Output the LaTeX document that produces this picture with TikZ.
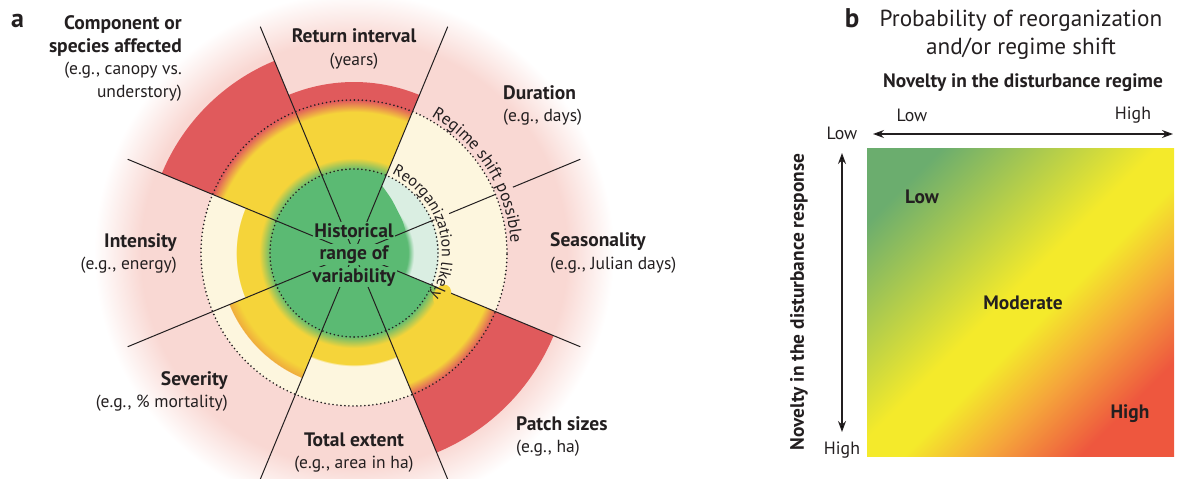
\documentclass[tikz,border=0pt]{standalone}
\usepackage{fontspec}
\setmainfont{PT Sans}
\usetikzlibrary{arrows.meta,decorations.text}

\definecolor{hrvgreen}{HTML}{5BBA73}
\definecolor{hrvyellow}{HTML}{F5D43A}
\definecolor{hrvred}{HTML}{E05A5C}
\definecolor{hrvcream}{HTML}{FDF6DE}
\definecolor{hrvmint}{HTML}{DAEEE2}
\definecolor{hrvpink}{HTML}{F9D8D3}
\definecolor{hrvorange}{HTML}{EFAC3C}
\definecolor{ink}{HTML}{231F20}
\definecolor{gridgreen}{HTML}{6BAD6E}
\definecolor{gridyellow}{HTML}{F4EA2B}
\definecolor{gridorange}{HTML}{F5A43B}
\definecolor{gridred}{HTML}{EE573E}

% radial shadings: on a circle of radius 250, 1bp = 10pt of radius
\pgfdeclareradialshading{glow}{\pgfpoint{0bp}{0bp}}{color(0bp)=(hrvpink); color(20.5bp)=(hrvpink); color(25bp)=(white); color(50bp)=(white)}
\pgfdeclareradialshading{redband}{\pgfpoint{0bp}{0bp}}{color(0bp)=(hrvgreen); color(8.3bp)=(hrvgreen); color(9.5bp)=(hrvyellow); color(14.1bp)=(hrvyellow); color(15.3bp)=(hrvred); color(50bp)=(hrvred)}
\pgfdeclareradialshading{intband}{\pgfpoint{0bp}{0bp}}{color(0bp)=(hrvgreen); color(8.3bp)=(hrvgreen); color(9.5bp)=(hrvyellow); color(11.75bp)=(hrvyellow); color(11.8bp)=(hrvcream); color(50bp)=(hrvcream)}
\pgfdeclareradialshading{sevband}{\pgfpoint{0bp}{0bp}}{color(0bp)=(hrvgreen); color(8.3bp)=(hrvgreen); color(9.5bp)=(hrvyellow); color(12.5bp)=(hrvyellow); color(13.5bp)=(hrvorange); color(13.55bp)=(hrvcream); color(50bp)=(hrvcream)}
\pgfdeclareradialshading{extband}{\pgfpoint{0bp}{0bp}}{color(0bp)=(hrvgreen); color(8.3bp)=(hrvgreen); color(9.5bp)=(hrvyellow); color(11.2bp)=(hrvyellow); color(11.25bp)=(hrvcream); color(50bp)=(hrvcream)}
\pgfdeclareradialshading{mintband}{\pgfpoint{0bp}{0bp}}{color(0bp)=(hrvgreen); color(5.4bp)=(hrvgreen); color(6.0bp)=(hrvmint); color(8.4bp)=(hrvmint); color(8.45bp)=(hrvcream); color(50bp)=(hrvcream)}
% diagonal shading of panel b
\pgfdeclarehorizontalshading{novelty}{100bp}{color(0bp)=(gridgreen); color(23bp)=(gridgreen); color(47.9bp)=(gridyellow); color(54.2bp)=(gridyellow); color(64.1bp)=(gridorange); color(74.7bp)=(gridred); color(100bp)=(gridred)}

\begin{document}
\begin{tikzpicture}[x=1pt,y=1pt,
    spoke/.style={draw=ink, line width=1pt},
    ring/.style={draw=ink, line width=1.8pt, line cap=round, dash pattern=on 0pt off 4pt},
    core/.style={fill=hrvgreen, text=ink, inner sep=1.5pt, font=\fontsize{19.5}{22}\selectfont\bfseries},
    lbl/.style={text=ink, inner sep=0pt, font=\fontsize{17.5}{22.5}\selectfont},
    axislbl/.style={text=ink, inner sep=0pt, font=\fontsize{17.8}{19}\selectfont},
    zone/.style={text=ink, inner sep=0pt, font=\fontsize{19.4}{20}\selectfont\bfseries},
    axisarrow/.style={draw=ink, line width=1.2pt, <->, >={Stealth[length=11pt,width=8pt]}}]
    \newcommand\hd[1]{{\fontsize{19.5}{22.5}\selectfont\bfseries #1}}
    \useasboundingbox (-354,-226) rectangle (824,253);

    % panel a
    \shade[shading=glow] (0,0) circle (260);
    \foreach \mid/\rad/\band in {90/171/redband, 135/208/redband, 180/153/intband, 225/153/sevband,
        270/153/extband, 315/216/redband, 0/153/mintband, 45/153/mintband}{
        \pgfmathsetmacro\aa{\mid-22.5}
        \pgfmathsetmacro\ab{\mid+22.5}
        \begin{scope}
            \clip (0,0) -- (\aa:\rad) arc[start angle=\aa, end angle=\ab, radius=\rad] -- cycle;
            \shade[shading=\band] (0,0) circle (250);
        \end{scope}
    }
    \fill[hrvgreen] (0,0) -- plot[smooth] coordinates {(67.5:73) (56:66) (45:61) (33:58) (22.5:56)} -- cycle;
    \draw[ring] (0,0) circle (84);
    \draw[ring] (0,0) circle (153);
    \foreach \a in {67.5,112.5,157.5,202.5,247.5,292.5,337.5}
        \draw[spoke] (0,0) -- (\a:245);
    \draw[spoke] (0,0) -- (22.5:87);
    \draw[spoke] (22.5:103) -- (22.5:153);
    \draw[spoke] (22.5:172) -- (22.5:245);
    \fill[hrvyellow, shift={(-25.8:98)}, rotate=-25.8] (0,0) ellipse [x radius=8.5, y radius=11.5];
    \path[decorate, decoration={text along path, text align=center, text color=ink,
        text={|\fontsize{17}{17}\selectfont|Regime shift possible}}]
        (80:157) arc[start angle=80, end angle=-16, radius=157];
    \path[decorate, decoration={text along path, text align=center, text color=ink,
        text={|\fontsize{16}{16}\selectfont|Reorganization likely}}]
        (70:88) arc[start angle=70, end angle=-35, radius=88];
    \node[core, anchor=base] (histA) at (0,16) {Historical};
    \node[core, anchor=base] (histB) at (0,-6) {range of};
    \node[core, anchor=base] (histC) at (0,-29) {variability};

    \node[text=ink, anchor=base, inner sep=0pt, font=\fontsize{26}{26}\selectfont\bfseries] (tagA) at (-336.5,225) {a};
    \node[lbl, anchor=east, align=right] (comp) at (-172,194.5) {\hd{Component or}\\\hd{species affected}\\(e.g., canopy vs.\\understory)};
    \node[lbl, align=center] (retn) at (0,204) {\hd{Return interval}\\(years)};
    \node[lbl, anchor=west, align=left] (durn) at (149,147.5) {\hd{Duration}\\(e.g., days)};
    \node[lbl, anchor=west, align=left] (seas) at (196,0) {\hd{Seasonality}\\(e.g., Julian days)};
    \node[lbl, anchor=west, align=left] (patch) at (162,-183.5) {\hd{Patch sizes}\\(e.g., ha)};
    \node[lbl, align=center] (extn) at (0,-199.5) {\hd{Total extent}\\(e.g., area in ha)};
    \node[lbl, anchor=east, align=right] (sevr) at (-126,-138.5) {\hd{Severity}\\(e.g., \% mortality)};
    \node[lbl, anchor=east, align=right] (intn) at (-177,-0.5) {\hd{Intensity}\\(e.g., energy)};

    % panel b
    \node[text=ink, anchor=base, inner sep=0pt, font=\fontsize{27}{27}\selectfont\bfseries] (tagB) at (498,225) {b};
    \node[text=ink, inner sep=0pt, align=center, font=\fontsize{23.2}{28}\selectfont] (title) at (667,218) {Probability of reorganization\\and/or regime shift};
    \node[text=ink, inner sep=0pt, font=\fontsize{19.4}{20}\selectfont\bfseries] (regime) at (669,170) {Novelty in the disturbance regime};
    \node[axislbl] (xlow) at (558,138) {Low};
    \node[axislbl] (xhigh) at (779,138) {High};
    \node[axislbl] (ylow) at (488,120) {Low};
    \node[axislbl] (yhigh) at (488,-197) {High};
    \node[text=ink, inner sep=0pt, rotate=90, font=\fontsize{19.4}{20}\selectfont\bfseries] (response) at (445,-49) {Novelty in the disturbance response};
    \coordinate (xa) at (519,119);
    \coordinate (xb) at (819,119);
    \coordinate (ya) at (488,100);
    \coordinate (yb) at (488,-179);
    \draw[axisarrow] (xa) -- (xb);
    \draw[axisarrow] (ya) -- (yb);
    \shade[shading=novelty, shading angle=-45] (513,-203) rectangle (820,104);
    \node[zone] (zlow) at (568,56) {Low};
    \node[zone] (zmod) at (669,-50) {Moderate};
    \node[zone] (zhigh) at (776,-161) {High};
\end{tikzpicture}
\end{document}
